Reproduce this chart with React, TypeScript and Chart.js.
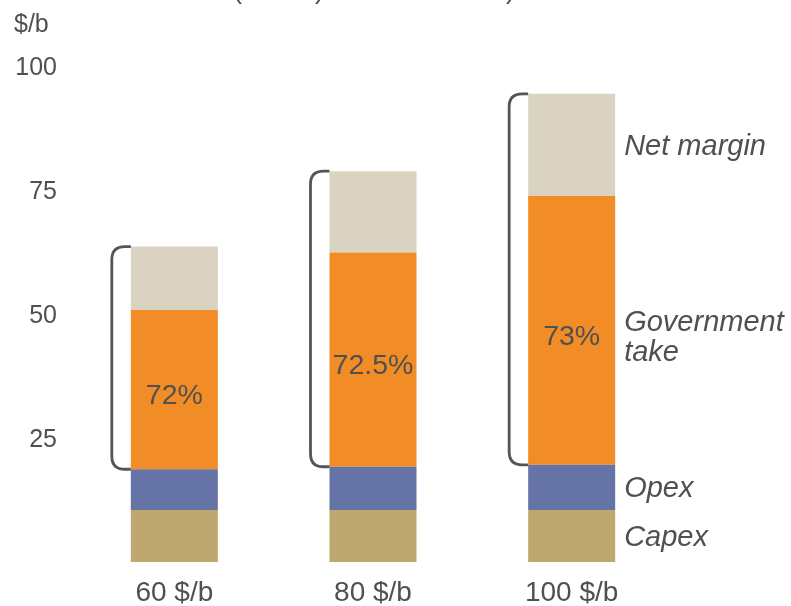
import React, { useEffect, useRef } from "react";
import { Chart, registerables } from "chart.js";

Chart.register(...registerables);

const categories = ["60 $/b", "80 $/b", "100 $/b"];
const capex = [10.5, 10.5, 10.5];
const opex = [8.2, 8.7, 9.1];
const govTake = [32.1, 43.2, 54.2];
const netMargin = [12.8, 16.4, 20.6];
const govShareLabels = ["72%", "72.5%", "73%"];
const segmentNames = ["Capex", "Opex", "Government take", "Net margin"];
const yTickValues = [25, 50, 75, 100];
const unitLabel = "$/b";

const FONT = "'Liberation Sans', Arial, sans-serif";
const TEXT = "#505050";
const COLORS = ["#bfa86f", "#6673a6", "#f28c26", "#dbd3c1"];

const overlayPlugin = {
  id: "overlay",
  afterDatasetsDraw(chart: any) {
    const ctx = chart.ctx;
    const mCap = chart.getDatasetMeta(0);
    const mOpex = chart.getDatasetMeta(1);
    const mGov = chart.getDatasetMeta(2);
    const mNet = chart.getDatasetMeta(3);
    ctx.save();
    // brackets
    ctx.strokeStyle = "#555555";
    ctx.lineWidth = 2.8;
    categories.forEach((_, i) => {
      const bar = mNet.data[i];
      const left = bar.x - bar.width / 2;
      const top = bar.y;
      const bottom = mOpex.data[i].y;
      const bx = left - 19;
      const r = 13;
      ctx.beginPath();
      ctx.moveTo(left, top);
      ctx.lineTo(bx + r, top);
      ctx.quadraticCurveTo(bx, top, bx, top + r);
      ctx.lineTo(bx, bottom - r);
      ctx.quadraticCurveTo(bx, bottom, bx + r, bottom);
      ctx.lineTo(left, bottom);
      ctx.stroke();
    });
    // percent labels
    ctx.fillStyle = TEXT;
    ctx.font = `28.5px ${FONT}`;
    ctx.textAlign = "center";
    ctx.textBaseline = "middle";
    categories.forEach((_, i) => {
      const g = mGov.data[i];
      ctx.fillText(govShareLabels[i], g.x, (g.y + g.base) / 2 + 7);
    });
    // segment names beside last bar
    const last = categories.length - 1;
    const metas = [mCap, mOpex, mGov, mNet];
    ctx.font = `italic 29px ${FONT}`;
    ctx.textAlign = "left";
    metas.forEach((m, k) => {
      const el = m.data[last];
      const x = el.x + el.width / 2 + 9;
      const cy = (el.y + el.base) / 2 + 2;
      const words = segmentNames[k].split(" ");
      if (segmentNames[k] === "Government take") {
        ctx.fillText(words[0], x, cy - 9);
        ctx.fillText(words[1], x, cy + 21);
      } else {
        ctx.fillText(segmentNames[k], x, cy);
      }
    });
    // unit label
    ctx.font = `25px ${FONT}`;
    ctx.textAlign = "left";
    ctx.fillText(unitLabel, 14, 25);
    // cut-off title fragments at the very top
    ctx.font = `27px ${FONT}`;
    ctx.textBaseline = "alphabetic";
    ctx.fillText("(", 233, -2);
    ctx.fillText(")", 315, -2);
    ctx.fillText(")", 506, -2);
    ctx.restore();
  },
};

export default function App() {
  const ref = useRef<HTMLCanvasElement | null>(null);
  useEffect(() => {
    document.body.style.margin = "0";
    const canvas = ref.current;
    if (!canvas) return;
    const ds = [capex, opex, govTake, netMargin].map((d, k) => ({
      label: segmentNames[k],
      data: d,
      backgroundColor: COLORS[k],
      borderWidth: 0,
      barPercentage: 0.438,
      categoryPercentage: 1,
    }));
    const chart = new Chart(canvas, {
      type: "bar",
      data: { labels: categories, datasets: ds },
      options: {
        responsive: false,
        animation: false,
        devicePixelRatio: 1,
        layout: { padding: { left: 0, right: 120, top: 66, bottom: 0 } },
        plugins: { legend: { display: false }, tooltip: { enabled: false }, title: { display: false } },
        scales: {
          x: {
            stacked: true,
            grid: { display: false, drawTicks: false },
            border: { display: false },
            ticks: { color: TEXT, font: { family: FONT, size: 28 }, padding: 14 },
            afterFit: (s: any) => { s.height = 44; },
          },
          y: {
            stacked: true,
            min: 0,
            max: 100,
            grid: { display: false, drawTicks: false },
            border: { display: false },
            afterBuildTicks: (s: any) => { s.ticks = yTickValues.map((v) => ({ value: v })); },
            ticks: { color: TEXT, font: { family: FONT, size: 25 }, padding: 18, labelOffset: 2 },
            afterFit: (s: any) => { s.width = 75; },
          },
        },
      },
      plugins: [overlayPlugin],
    });
    return () => chart.destroy();
  }, []);
  return (
    <div style={{ width: 791, height: 606 }}>
      <canvas ref={ref} width={791} height={606} style={{ display: "block" }} />
    </div>
  );
}
